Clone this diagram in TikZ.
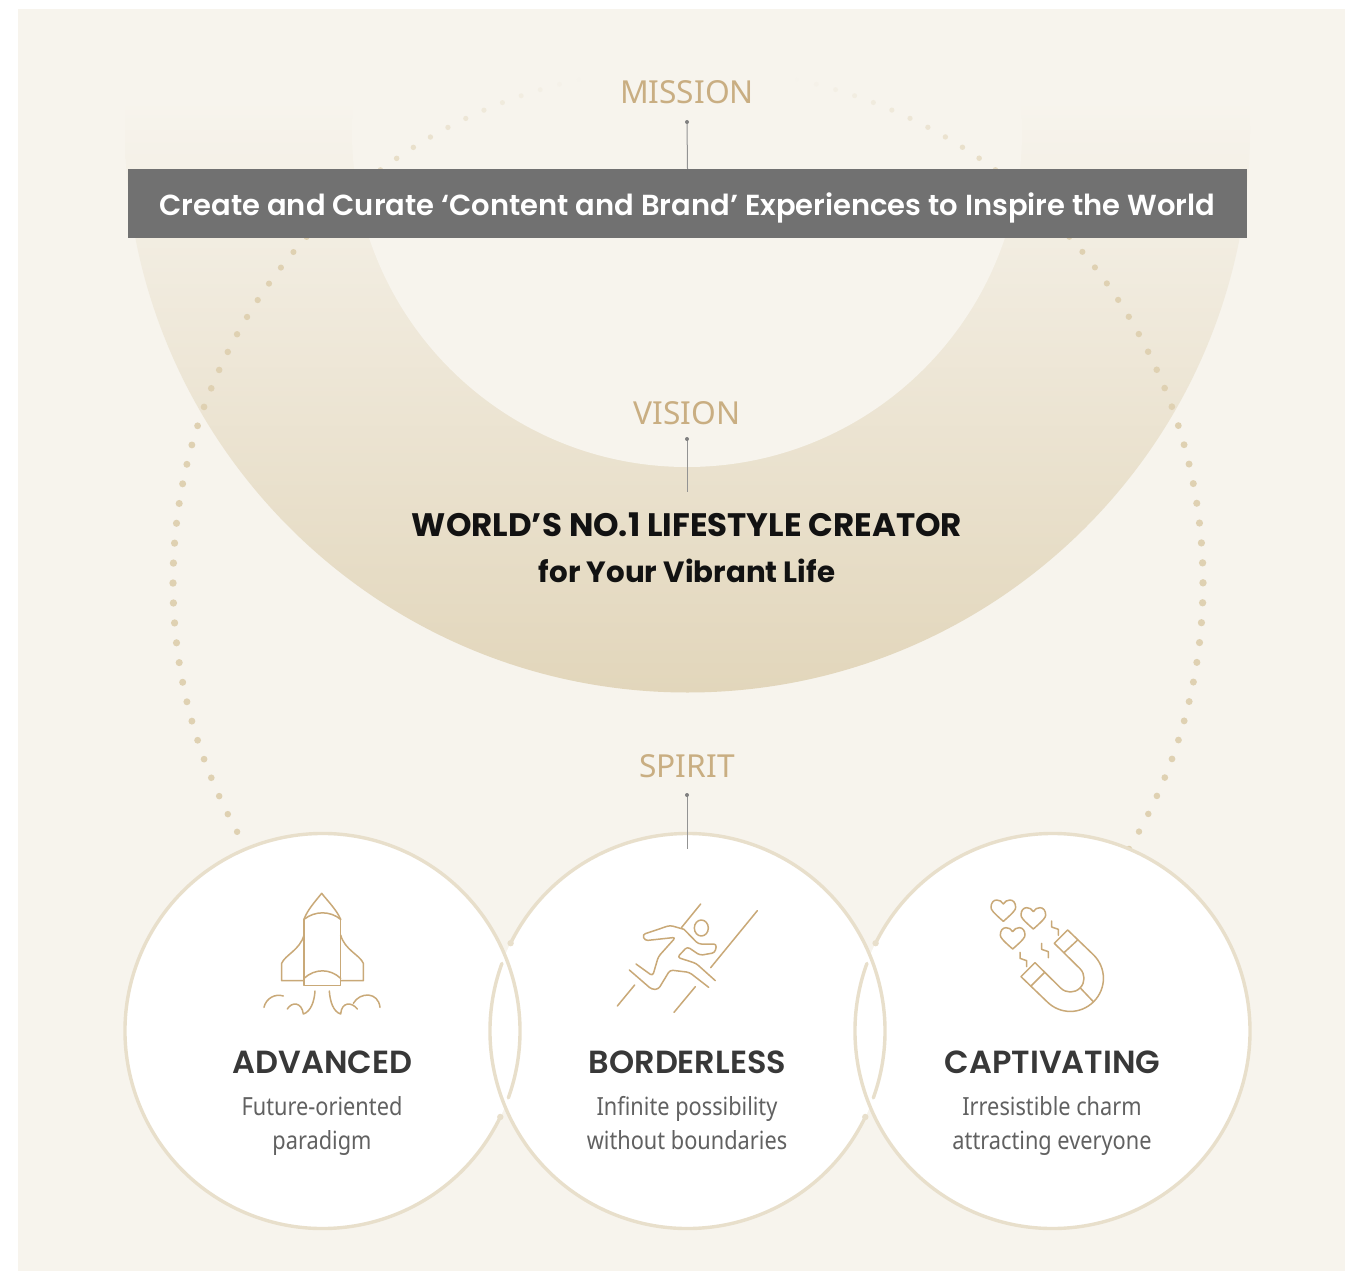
\documentclass[tikz,border=0pt]{standalone}
\usepackage{fontspec}
\newfontfamily\headfont{Poppins SemiBold}
\newfontfamily\visionfont{Poppins}
\newfontfamily\bodyfont{Noto Sans}[FakeStretch=0.87]
\newfontfamily\tagfont{Noto Sans}
\definecolor{bgcream}{HTML}{F7F4ED}
\definecolor{ringtan}{HTML}{E2D6BB}
\definecolor{rimtan}{HTML}{E8DFCB}
\definecolor{dottan}{HTML}{DFD1B2}
\definecolor{icongold}{HTML}{C9A978}
\definecolor{taggold}{HTML}{C9AE82}
\definecolor{barblack}{HTML}{717171}
\newcommand{\iconheart}[2]% notch x, notch y
{\draw[icon, shift={(#1,#2)}] (0,0) .. controls (-5,-8) and (-11,-12) .. (-20,-12) .. controls (-30,-12) and (-37,-3) .. (-37,10)
 .. controls (-37,17) and (-32,24) .. (0,52) .. controls (32,24) and (37,17) .. (37,10)
 .. controls (37,-3) and (30,-12) .. (20,-12) .. controls (11,-12) and (5,-8) .. (0,0);
}
\newcommand{\iconbolt}[2]% top x, top y
{\draw[icon, shift={(#1,#2)}] (0,0) -- (0,18) -- (20,25) -- (20,43);
}
\tikzset{
	tag/.style={text=taggold, font=\tagfont\fontsize{31.7}{36}\selectfont},
	stem/.style={draw=gray!85, line width=1pt},
	rim/.style={draw=rimtan, line width=3.4pt, line cap=round},
	icon/.style={draw=icongold, line width=1.5pt, line cap=round, line join=round},
	title/.style={text=black!78, font=\headfont\fontsize{32}{34}\selectfont},
	blurb/.style={text=black!62, align=center, text height=46pt, text depth=8pt, font=\bodyfont\fontsize{25}{34}\selectfont}
}

\begin{document}
\begin{tikzpicture}[x=1pt, y=1pt, yscale=-1]
	\useasboundingbox (0,0) rectangle (1345,1271);
	\fill[bgcream] (18,9) rectangle (1345,1271);
	% ring
	\begin{scope}
		\clip (18,10) rectangle (1345,1271);
		\clip (687.5,130) circle (562.5);
		\shade[top color=bgcream, bottom color=ringtan] (120,100) rectangle (1255,692);
	\end{scope}
	\begin{scope}
		\clip (18,10) rectangle (1345,1271);
		\fill[bgcream] (687,132) circle (335);
	\end{scope}
	% dots
	\foreach \i in {0,...,108}{
		\pgfmathsetmacro{\dotangle}{151.11+\i*2.222}
		\pgfmathsetmacro{\dotfade}{max(0,min(1,(abs(\dotangle-270)-12)/36))}
		\pgfmathsetmacro{\dotsize}{3.7-abs(abs(\dotangle-270)-90)/60}
		\fill[dottan, opacity=\dotfade] (688,583) ++(\dotangle:515) circle (\dotsize);
	}
	% top block
	\node[fill=barblack, text=white, minimum width=1119, minimum height=69, inner sep=0, font=\headfont\fontsize{29}{36}\selectfont] (missionbar) at (687.5,203.5) {\raisebox{-12pt}[0pt][0pt]{Create and Curate ‘Content and Brand’ Experiences to Inspire the World}};
	\node[tag] (missiontag) at (687,92) {MISSION};
	\node[tag] (visiontag) at (687,413) {VISION};
	\node[tag] (spirittag) at (687,766) {SPIRIT};
	\coordinate (missiontip) at (687,122);
	\coordinate (visiontip) at (687,439);
	\coordinate (visionend) at (687,492);
	\coordinate (spirittip) at (687,795);
	\coordinate (spiritend) at (687,849);
	\node[align=center, text=black!93, font=\visionfont\bfseries\fontsize{29.3}{46}\selectfont] (visiontext) at (687,548) {{\fontsize{32.5}{46}\selectfont WORLD’S NO.1 LIFESTYLE CREATOR}\\for Your Vibrant Life};
	% circles
	\foreach \cx in {322.5,687.5,1052.5}{
		\fill[white] (\cx,1031) circle (197.5);
	}
	\draw[rim] (322.5,1031) ++(25.8:197.5) arc[start angle=25.8, end angle=379.8, radius=197.5];
	\draw[rim] (687.5,1031) ++(25.8:197.5) arc[start angle=25.8, end angle=200, radius=197.5];
	\draw[rim] (687.5,1031) ++(206.4:197.5) arc[start angle=206.4, end angle=379.8, radius=197.5];
	\draw[rim] (1052.5,1031) ++(206.4:197.5) arc[start angle=206.4, end angle=560, radius=197.5];
	\fill[rimtan] (322.5,1031) ++(25.8:197.5) circle (3.2);
	\fill[rimtan] (687.5,1031) ++(25.8:197.5) circle (3.2);
	\fill[rimtan] (687.5,1031) ++(206.4:197.5) circle (3.2);
	\fill[rimtan] (1052.5,1031) ++(206.4:197.5) circle (3.2);
	\draw[stem] (missiontip) -- (missionbar.north);
	\draw[stem] (visiontip) -- (visionend);
	\draw[stem] (spirittip) -- (spiritend);
	\foreach \tip in {missiontip,visiontip,spirittip}{
		\fill[gray] (\tip) circle (2);
	}
	% rocket
	\begin{scope}[shift={(220,880)}, scale=1/3]
		\draw[icon] (252,118) .. controls (262,90) and (285,65) .. (305,40) .. controls (325,65) and (350,90) .. (362,118);
		\draw[icon] (252,118) -- (252,317) -- (362,317) -- (362,118);
		\draw[icon] (252,118) .. controls (285,92) and (330,92) .. (362,118);
		\draw[icon] (252,295) .. controls (285,265) and (330,265) .. (362,295);
		\draw[icon] (252,165) .. controls (240,210) and (195,225) .. (185,250) -- (185,302) -- (252,302);
		\draw[icon] (362,165) .. controls (374,210) and (420,225) .. (430,250) -- (430,302) -- (362,302);
		\draw[icon] (132,382) .. controls (138,355) and (165,340) .. (190,348);
		\draw[icon] (202,387) .. controls (215,365) and (245,365) .. (250,402) .. controls (272,395) and (283,365) .. (285,333);
		\draw[icon] (328,333) .. controls (330,365) and (340,395) .. (362,402) .. controls (365,365) and (395,365) .. (412,387);
		\draw[icon] (400,370) .. controls (420,335) and (475,335) .. (480,382);
	\end{scope}
	% runner
	\begin{scope}[shift={(590,880)}, scale=1/3]
		\draw[icon] (275,142) -- (332,72);
		\draw[icon] (362,263) -- (502,92);
		\draw[icon] (82,378) -- (134,315);
		\draw[icon] (252,397) -- (316,320);
		\draw[icon] (334,144) ellipse (21 and 24);
		\draw[icon, rounded corners=3pt] (282,148) -- (325,192) -- (380,192) -- (375,218) -- (330,226) -- (292,200) -- (262,232) -- (318,250) -- (376,302);
		\draw[icon, rounded corners=3pt] (282,148) -- (240,136) -- (157,164) -- (165,182) -- (257,172) -- (205,230) -- (188,288) -- (138,252);
		\draw[icon, rounded corners=3pt] (118,270) -- (185,328) -- (205,328) -- (240,270) -- (298,277) -- (356,322);
	\end{scope}
	% magnet
	\begin{scope}[shift={(960,880)}, scale=1/3]
		\iconheart{130}{72}
		\iconheart{220}{95}
		\iconheart{158}{155}
		\iconbolt{275}{123}
		\iconbolt{245}{190}
		\iconbolt{180}{217}
		\draw[icon] (283,190) -- (323,150) -- (401,225) .. controls (440,264) and (440,326) .. (401,365) .. controls (362,404) and (300,404) .. (261,365) -- (183,290) -- (225,248) -- (302,324) .. controls (318,340) and (344,340) .. (360,324) .. controls (376,308) and (376,282) .. (360,266) -- cycle;
		\draw[icon] (312,218) -- (353,180);
		\draw[icon] (213,318) -- (253,278);
		\draw[icon] (362,325) -- (400,365);
	\end{scope}
	% captions
	\node[title] (advanced) at (322.5,1062) {ADVANCED};
	\node[title] (borderless) at (687.5,1062) {BORDERLESS};
	\node[title] (captivating) at (1052.5,1062) {CAPTIVATING};
	\node[blurb] (advancedtext) at (322,1130) {Future-oriented\\paradigm};
	\node[blurb] (borderlesstext) at (687,1130) {Infinite possibility\\without boundaries};
	\node[blurb] (captivatingtext) at (1052,1130) {Irresistible charm\\attracting everyone};
\end{tikzpicture}
\end{document}
